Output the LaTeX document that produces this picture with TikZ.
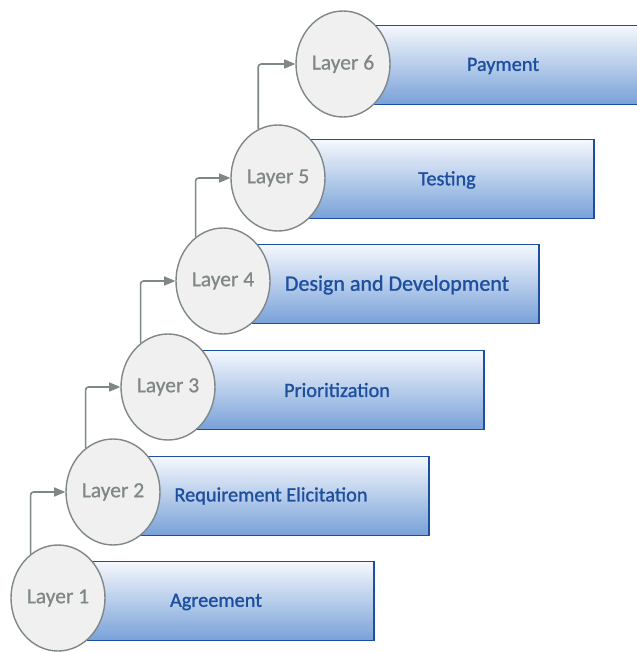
\documentclass[tikz,border=0pt]{standalone}
\usepackage{fontspec}
\setmainfont{Carlito}
\newfontfamily\stagefont[FakeBold=1.2]{Carlito}
\newfontfamily\layerfont[FakeBold=0.8]{Carlito}
\usepackage{xcolor}
\usetikzlibrary{shapes,arrows,positioning}
\definecolor{stepblue}{HTML}{1E4F9E}
\definecolor{steptop}{HTML}{F5F8FD}
\definecolor{stepbot}{HTML}{78A1D8}
\definecolor{layergray}{HTML}{7F8787}
\tikzset{
  stage/.style={draw=stepblue, line width=1.6pt, top color=steptop, bottom color=stepbot,
    minimum width=288pt, minimum height=79pt, anchor=west},
  layer/.style={draw=layergray, line width=1.4pt, fill={rgb,255:red,240;green,240;blue,240}, ellipse, inner sep=0pt,
    minimum width=94pt, minimum height=106pt, text=layergray, font=\layerfont\fontsize{21.5}{24}\selectfont},
  lbl/.style={text=stepblue, font=\stagefont\fontsize{20.3}{24}\selectfont},
  up/.style={draw=layergray, line width=1.6pt, -triangle 45, rounded corners=3pt}
}
\begin{document}
\begin{tikzpicture}[x=1pt,y=-1pt]
        \useasboundingbox (0,0) rectangle (636,652);
        % stages
        \node[stage] (S1) at (85,601) {};
        \node[stage] (S2) at (140,496) {};
        \node[stage] (S3) at (195,390) {};
        \node[stage] (S4) at (250,284) {};
        \node[stage] (S5) at (305,179) {};
        \node[stage] (S6) at (370,65) {};
        \node[lbl] (T1) at (216,602) {Agreement};
        \node[lbl] (T2) at (271,496) {Requirement Elicitation};
        \node[lbl] (T3) at (337,390) {Prioritization};
        \node[lbl, font=\stagefont\fontsize{22}{26}\selectfont] (T4) at (397,285) {Design and Development};
        \node[lbl] (T5) at (447,180) {Testing};
        \node[lbl] (T6) at (503,66) {Payment};
        % layers
        \node[layer] (L1) at (58,598) {Layer 1};
        \node[layer] (L2) at (113,492) {Layer 2};
        \node[layer] (L3) at (168,387) {Layer 3};
        \node[layer] (L4) at (223,281) {Layer 4};
        \node[layer] (L5) at (278,178) {Layer 5};
        \node[layer] (L6) at (343,64) {Layer 6};
        \path[up] (L1.122) |- (L2.west);
        \path[up] (L2.122) |- (L3.west);
        \path[up] (L3.122) |- (L4.west);
        \path[up] (L4.122) |- (L5.west);
        \path[up] (L5.112) |- (L6.west);
\end{tikzpicture}
\end{document}
